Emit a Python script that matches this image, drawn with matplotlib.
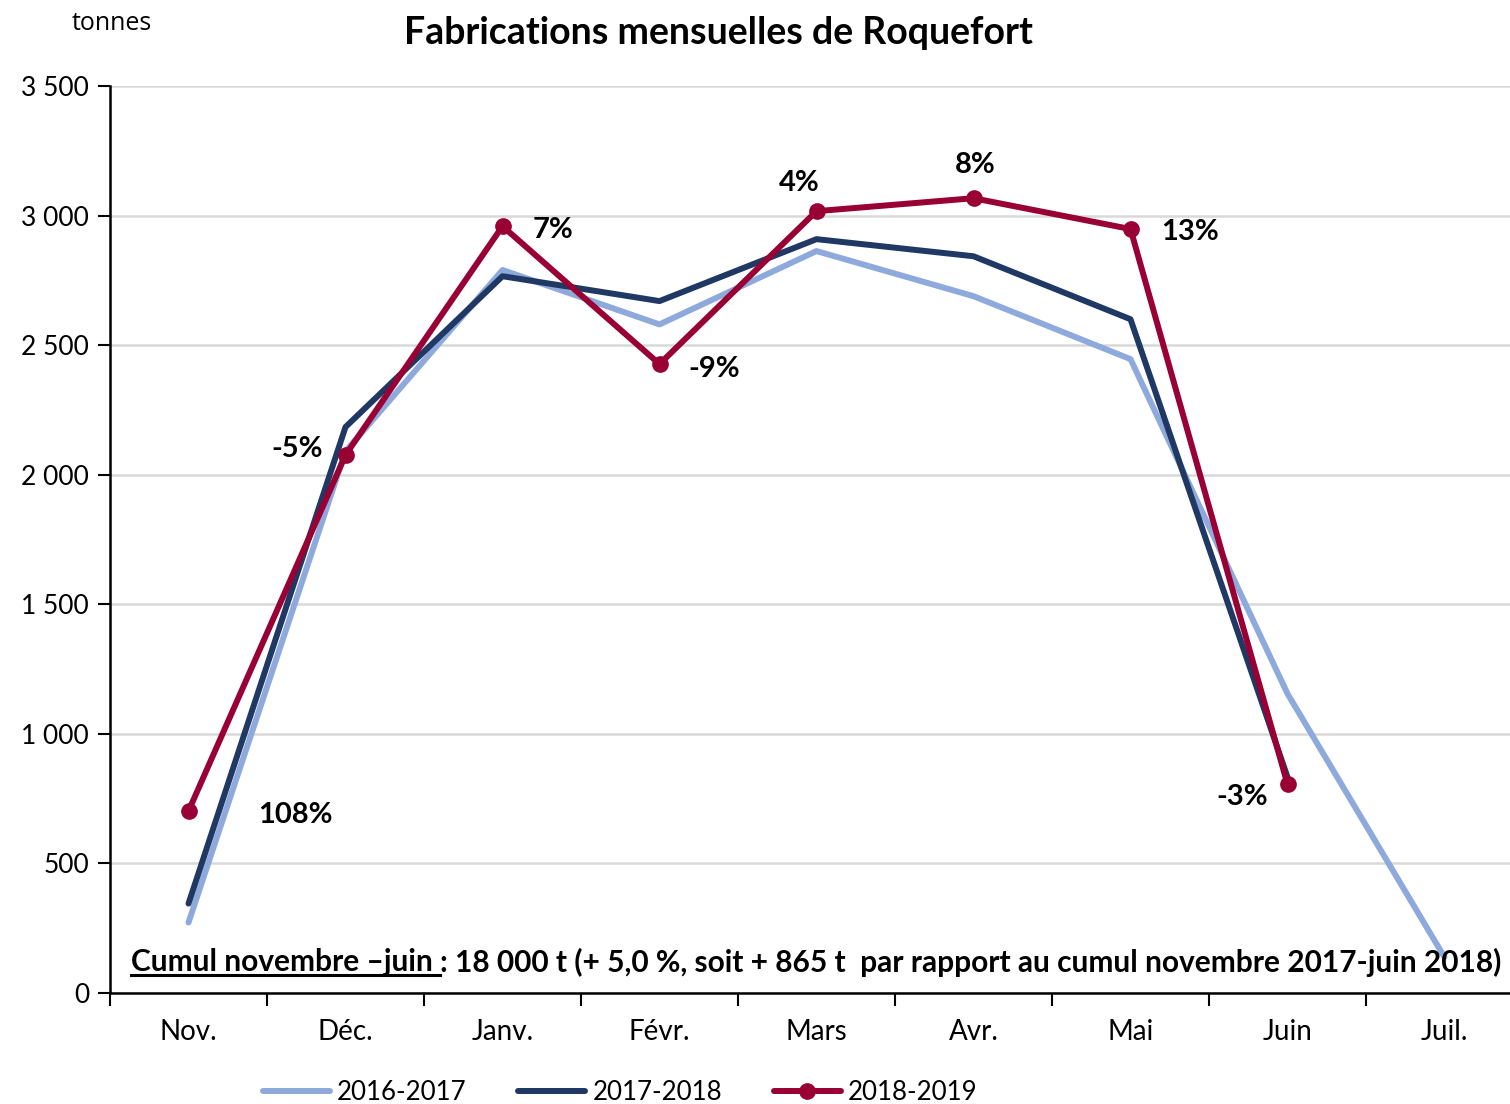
import matplotlib
matplotlib.use("Agg")
import matplotlib.pyplot as plt
import numpy as np

months = ["Nov.", "Déc.", "Janv.", "Févr.", "Mars", "Avr.", "Mai", "Juin", "Juil."]
s2016 = [272, 2090, 2790, 2580, 2863, 2689, 2446, 1155, 138]
s2017 = [345, 2184, 2766, 2670, 2909, 2843, 2600, 833]
s2018 = [702, 2076, 2959, 2427, 3017, 3067, 2948, 806]
pct_labels = ["108%", "-5%", "7%", "-9%", "4%", "8%", "13%", "-3%"]
yticks = [0, 500, 1000, 1500, 2000, 2500, 3000, 3500]
ytick_labels = ["0", "500", "1 000", "1 500", "2 000", "2 500", "3 000", "3 500"]

plt.rcParams['font.family'] = ['Lato', 'DejaVu Sans']

W, H = 1510, 1104
fig = plt.figure(figsize=(W/100, H/100), dpi=100)
ax = fig.add_axes([110/W, (H-993)/H, 1400/W, 907/H])

c1, c2, c3 = "#8EAADC", "#1F3864", "#990033"
x = np.arange(len(months))
ax.plot(x[:len(s2016)], s2016, color=c1, lw=4.3, solid_capstyle='round', label="2016-2017", zorder=2)
ax.plot(x[:len(s2017)], s2017, color=c2, lw=4.3, solid_capstyle='round', label="2017-2018", zorder=3)
ax.plot(x[:len(s2018)], s2018, color=c3, lw=4.3, marker='o', ms=11, solid_capstyle='round', label="2018-2019", zorder=4)

ax.set_yticks(yticks)
ax.set_yticklabels(ytick_labels, fontsize=19)
ax.set_xticks(x)
ax.set_xticklabels(months, fontsize=20)
ax.set_xticks(np.arange(-0.5, 8.6, 1), minor=True)
ax.set_xlim(-0.5, -0.5 + 1400/157)
ax.set_ylim(0, 3500)
ax.tick_params(axis='x', which='major', length=0, pad=19)
ax.tick_params(axis='x', which='minor', length=9, width=1.5, direction='out')
ax.tick_params(axis='y', length=9, width=1.5, direction='out', pad=6)
ax.grid(axis='y', color='#D9D9D9', lw=1.8)
ax.set_axisbelow(True)
for s in ['top', 'right']:
    ax.spines[s].set_visible(False)
for s in ['left', 'bottom']:
    ax.spines[s].set_linewidth(1.8)

# percentage labels (offsets in points)
k = 0.72
offsets = [(107*k, -4*k), (-48*k, 6*k), (50*k, -4*k), (55*k, -5*k),
           (-17*k, 28*k), (2*k, 33*k), (60*k, -3*k), (-45*k, -13*k)]
for i, (lab, off) in enumerate(zip(pct_labels, offsets)):
    ax.annotate(lab, (x[i], s2018[i]), xytext=off, textcoords='offset points',
                ha='center', va='center', fontsize=21, fontweight='bold')

fig.text(718/W, 1-33/H, "Fabrications mensuelles de Roquefort", ha='center', va='center',
         fontsize=27, fontweight='bold')
fig.text(112/W, 1-23/H, "tonnes", ha='center', va='center', fontsize=18,
         family=['Open Sans', 'DejaVu Sans'])

# cumul annotation with underline
fig.canvas.draw()
r = fig.canvas.get_renderer()
y_txt = 1 - 962/H
t1 = fig.text(131/W, y_txt, "Cumul novembre \u2013juin ", ha='left', va='center', fontsize=21.5, fontweight='bold')
bb = t1.get_window_extent(renderer=r)
t2 = fig.text(bb.x1/W, y_txt, ": 18 000 t (+ 5,0 %, soit + 865 t  par rapport au cumul novembre 2017-juin 2018)",
              ha='left', va='center', fontsize=21.5, fontweight='bold')
fig.add_artist(plt.Line2D([bb.x0/W, bb.x1/W], [(bb.y0 + 1)/H, (bb.y0 + 1)/H], color='black', lw=2.2))

leg = fig.legend(loc='center', bbox_to_anchor=(620/W, 1-1093/H), ncol=3, frameon=False,
                 fontsize=18.6, handlelength=2.6, handletextpad=0.27, columnspacing=2.0)

fig.savefig("out.png", dpi=100)
